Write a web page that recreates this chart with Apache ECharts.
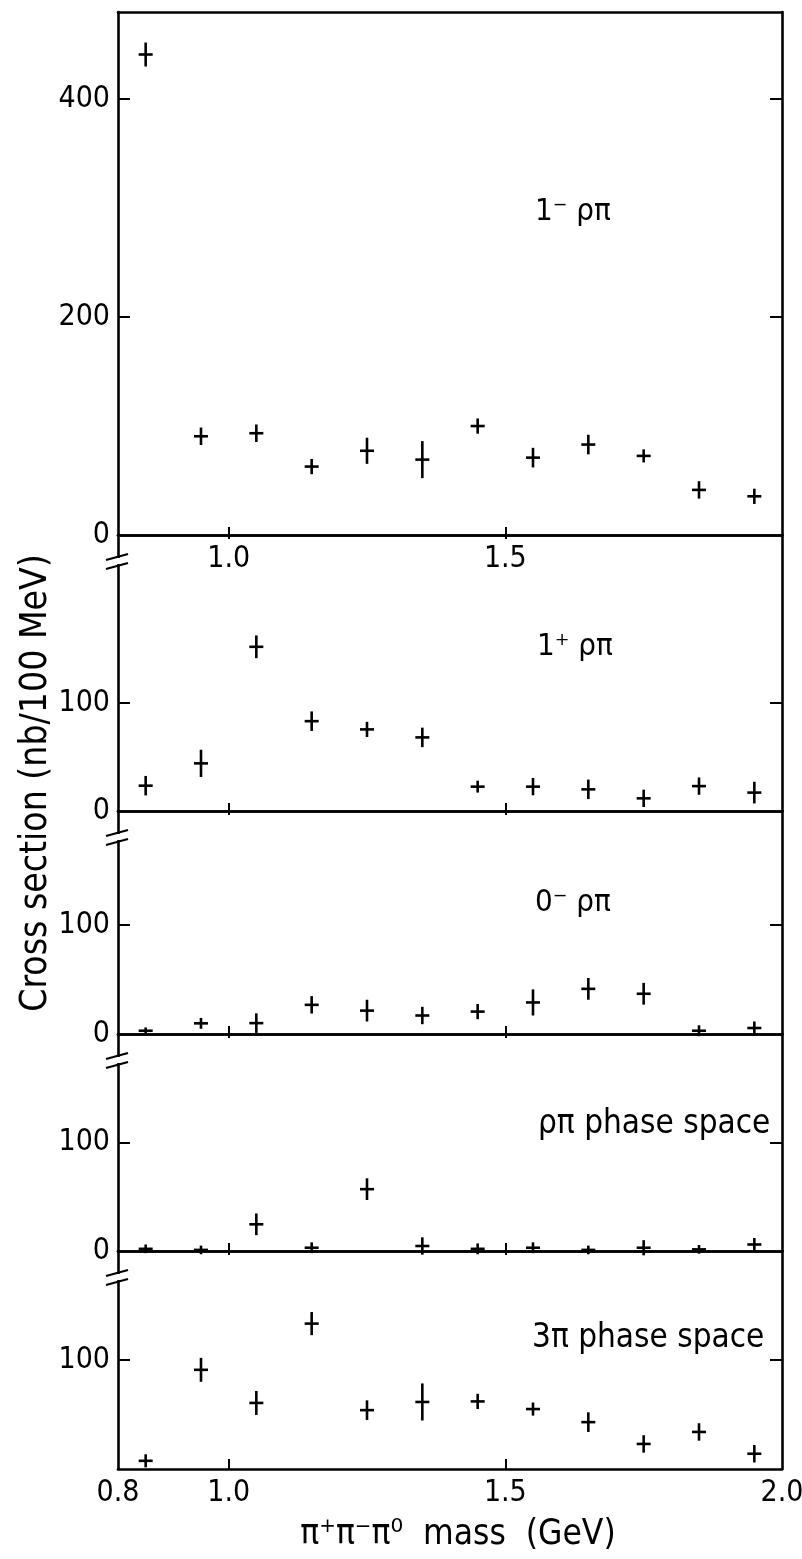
<!DOCTYPE html>
<html>
<head>
<meta charset="utf-8">
<script src="https://cdn.jsdelivr.net/npm/echarts@6/dist/echarts.min.js"></script>
<style>
  html, body { margin: 0; padding: 0; background: #fff; }
  #chart { width: 802px; height: 1559px; }
</style>
</head>
<body>
<div id="chart"></div>
<script>
// Bin centres of the pi+ pi- pi0 mass spectrum (GeV)
const massBins = [0.85, 0.95, 1.05, 1.15, 1.25, 1.35, 1.45, 1.55, 1.65, 1.75, 1.85, 1.95];

// Cross sections (nb/100 MeV) and their errors, one pair per partial wave
const rho1mVal = [441, 90.6, 93.4, 62.8, 77.3, 69.2, 100, 71, 83, 72.6, 41.4, 35.5];
const rho1mErr = [11, 8, 8, 7, 12, 17, 7, 9, 9, 6, 8, 7];
const rho1pVal = [23.4, 44, 151.7, 83, 75.4, 68, 22.5, 22.5, 20, 11.7, 23, 17];
const rho1pErr = [9, 12.6, 10.5, 9, 7, 9, 5.5, 8, 9, 8, 8, 10];
const rho0mVal = [3, 9.8, 10, 26.8, 21.5, 17, 20.6, 29, 41.5, 37, 3, 5.5];
const rho0mErr = [3, 5, 9, 8, 10, 8, 7, 12, 10, 10, 5, 6];
const rhoPsVal = [2, 1, 24.6, 3, 57, 4.6, 2, 3, 1, 3, 1.5, 6];
const rhoPsErr = [4, 4, 10, 5, 10, 8, 5, 5, 4, 7, 4, 6];
const pi3PsVal = [7.5, 91, 60.6, 133.4, 54, 61.5, 62, 55, 43, 23, 34, 14];
const pi3PsErr = [6, 11, 11, 10.6, 9, 17, 7, 6, 9, 8, 8, 8];

// Panel texts and axis tick labels
const panelNames = ['1\u207B \u03C1\u03C0', '1\u207A \u03C1\u03C0', '0\u207B \u03C1\u03C0', '\u03C1\u03C0 phase space', '3\u03C0 phase space'];
const yTicks = [[200, 400], [100], [100], [100], [100]];
const yLabels = [[0, 200, 400], [0, 100], [0, 100], [0, 100], [100]];
const yMax = [480, 255, 205, 200, 200];
const xLabelsMid = [1.0, 1.5];
const xLabelsBottom = [0.8, 1.0, 1.5, 2.0];
const xTitle = '\u03C0\u207A\u03C0\u207B\u03C0\u2070  mass  (GeV)';
const yTitle = 'Cross section (nb/100 MeV)';

const panelVals = [rho1mVal, rho1pVal, rho0mVal, rhoPsVal, pi3PsVal];
const panelErrs = [rho1mErr, rho1pErr, rho0mErr, rhoPsErr, pi3PsErr];

// Layout of the stacked panels (px)
const gridLeft = 118, gridRight = 20;
const panelTop = [12, 535, 811, 1034, 1251];
const panelBottom = [535, 811, 1034, 1251, 1469];
const labelPos = [[535, 215], [537, 650], [535, 906], [538, 1127], [532, 1341]];
const labelSize = [31, 31, 31, 33, 33];

const FONT = "'DejaVu Sans Condensed', 'DejaVu Sans', sans-serif";
const INK = '#000';
const LW = 2.6;

const grids = [], xAxes = [], yAxes = [], series = [], graphics = [];

function renderCross(params, api) {
  const x = api.value(0), y = api.value(1), e = api.value(2);
  const c = api.coord([x, y]);
  const hi = api.coord([x, y + e]);
  const lo = api.coord([x, y - e]);
  return {
    type: 'group',
    children: [
      { type: 'line', shape: { x1: c[0], y1: hi[1], x2: c[0], y2: lo[1] }, style: { stroke: INK, lineWidth: LW } },
      { type: 'line', shape: { x1: c[0] - 7, y1: c[1], x2: c[0] + 7, y2: c[1] }, style: { stroke: INK, lineWidth: LW } }
    ]
  };
}

for (let i = 0; i < 5; i++) {
  grids.push({
    left: gridLeft, right: gridRight,
    top: panelTop[i], height: panelBottom[i] - panelTop[i],
    containLabel: false,
    outerBoundsMode: 'none'
  });
  const labelVals = i === 0 ? xLabelsMid : (i === 4 ? xLabelsBottom : []);
  // bottom axis of the panel
  xAxes.push({
    type: 'value', gridIndex: i, position: 'bottom', min: 0.8, max: 2.0,
    axisLine: { show: true, onZero: false, lineStyle: { color: INK, width: LW } },
    axisTick: { show: true, inside: true, length: i === 4 ? 10 : 8, customValues: [1.0, 1.5], lineStyle: { color: INK, width: 2 } },
    axisLabel: {
      show: labelVals.length > 0, customValues: labelVals, margin: 9,
      color: INK, fontFamily: FONT, fontSize: 30,
      formatter: v => v.toFixed(1)
    },
    splitLine: { show: false }
  });
  // top axis of the panel
  xAxes.push({
    type: 'value', gridIndex: i, position: 'top', min: 0.8, max: 2.0,
    axisLine: { show: true, onZero: false, lineStyle: { color: INK, width: LW } },
    axisTick: { show: i > 0, inside: true, length: 4, customValues: [1.0, 1.5], lineStyle: { color: INK, width: 2 } },
    axisLabel: { show: false },
    splitLine: { show: false }
  });
  yAxes.push({
    type: 'value', gridIndex: i, position: 'left', min: 0, max: yMax[i],
    axisLine: { show: true, onZero: false, lineStyle: { color: INK, width: LW } },
    axisTick: { show: true, inside: true, length: 12, customValues: yTicks[i], lineStyle: { color: INK, width: 2 } },
    axisLabel: {
      show: true, customValues: yLabels[i], margin: 8,
      color: INK, fontFamily: FONT, fontSize: 30,
      formatter: v => String(v)
    },
    splitLine: { show: false }
  });
  yAxes.push({
    type: 'value', gridIndex: i, position: 'right', min: 0, max: yMax[i],
    axisLine: { show: true, onZero: false, lineStyle: { color: INK, width: LW } },
    axisTick: { show: true, inside: true, length: 12, customValues: yTicks[i], lineStyle: { color: INK, width: 2 } },
    axisLabel: { show: false },
    splitLine: { show: false }
  });
  series.push({
    type: 'custom',
    xAxisIndex: 2 * i, yAxisIndex: 2 * i,
    renderItem: renderCross,
    clip: false,
    data: massBins.map((m, k) => [m, panelVals[i][k], panelErrs[i][k]]),
    silent: true
  });
  graphics.push({
    type: 'text', left: labelPos[i][0], top: labelPos[i][1] - 19,
    style: { text: panelNames[i], fill: INK, font: labelSize[i] + 'px ' + FONT }
  });
  // axis break marks just below each panel boundary
  if (i > 0) {
    const yb = panelTop[i];
    graphics.push({ type: 'rect', shape: { x: gridLeft - 3, y: yb + 23, width: 6, height: 6 }, style: { fill: '#fff' }, z: 100 });
    graphics.push({ type: 'line', shape: { x1: gridLeft - 12, y1: yb + 25, x2: gridLeft + 10, y2: yb + 19 }, style: { stroke: INK, lineWidth: 2.2 }, z: 101 });
    graphics.push({ type: 'line', shape: { x1: gridLeft - 12, y1: yb + 34, x2: gridLeft + 10, y2: yb + 28 }, style: { stroke: INK, lineWidth: 2.2 }, z: 101 });
  }
}

graphics.push({
  type: 'text', x: 36, y: 783, rotation: Math.PI / 2,
  style: { text: yTitle, fill: INK, font: '37px ' + FONT, textAlign: 'center', textVerticalAlign: 'middle' }
});
graphics.push({
  type: 'text', x: 458, y: 1535,
  style: { text: xTitle, fill: INK, font: '35px ' + FONT, textAlign: 'center', textVerticalAlign: 'middle' }
});

const chart = echarts.init(document.getElementById('chart'), null, { renderer: 'canvas' });
chart.setOption({
  backgroundColor: '#fff',
  animation: false,
  grid: grids,
  xAxis: xAxes,
  yAxis: yAxes,
  series: series,
  graphic: graphics
});
</script>
</body>
</html>
